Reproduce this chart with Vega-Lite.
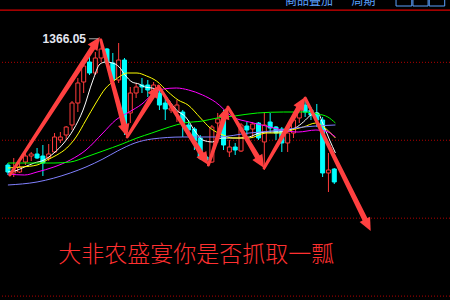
{
  "$schema": "https://vega.github.io/schema/vega-lite/v6.json",
  "width": 450,
  "height": 300,
  "autosize": {"type": "none"},
  "padding": 0,
  "background": "#000000",
  "config": {"view": {"stroke": null}, "axis": {"disable": true}},
  "datasets": {
    "candles": [
      {"i":0,"o":1333.65,"h":1334.16,"l":1331.08,"c":1331.85},
      {"i":1,"o":1331.60,"h":1335.45,"l":1330.57,"c":1332.37},
      {"i":2,"o":1331.85,"h":1334.16,"l":1331.60,"c":1333.14},
      {"i":3,"o":1334.42,"h":1336.73,"l":1333.65,"c":1335.96},
      {"i":4,"o":1335.96,"h":1336.99,"l":1334.68,"c":1336.47},
      {"i":5,"o":1336.47,"h":1338.01,"l":1335.19,"c":1335.45},
      {"i":6,"o":1335.96,"h":1338.78,"l":1330.83,"c":1334.16},
      {"i":7,"o":1335.45,"h":1339.04,"l":1334.68,"c":1336.47},
      {"i":8,"o":1336.99,"h":1341.86,"l":1336.73,"c":1340.84},
      {"i":9,"o":1340.07,"h":1342.12,"l":1339.30,"c":1340.84},
      {"i":10,"o":1341.35,"h":1343.66,"l":1340.07,"c":1343.40},
      {"i":11,"o":1343.92,"h":1350.08,"l":1342.63,"c":1349.56},
      {"i":12,"o":1349.56,"h":1355.98,"l":1347.25,"c":1354.70},
      {"i":13,"o":1354.95,"h":1360.09,"l":1352.13,"c":1359.06},
      {"i":14,"o":1360.09,"h":1361.63,"l":1356.75,"c":1357.26},
      {"i":15,"o":1357.26,"h":1362.65,"l":1356.75,"c":1361.11},
      {"i":16,"o":1361.11,"h":1366.05,"l":1360.09,"c":1363.42},
      {"i":17,"o":1363.42,"h":1363.68,"l":1359.32,"c":1359.83},
      {"i":18,"o":1359.83,"h":1362.40,"l":1354.70,"c":1355.47},
      {"i":19,"o":1355.47,"h":1364.96,"l":1354.70,"c":1360.60},
      {"i":20,"o":1360.60,"h":1361.11,"l":1341.35,"c":1342.63},
      {"i":21,"o":1347.00,"h":1353.67,"l":1344.43,"c":1352.13},
      {"i":22,"o":1352.13,"h":1354.70,"l":1350.85,"c":1353.67},
      {"i":23,"o":1354.18,"h":1355.98,"l":1352.13,"c":1353.67},
      {"i":24,"o":1354.18,"h":1355.47,"l":1351.10,"c":1352.90},
      {"i":25,"o":1351.62,"h":1354.95,"l":1350.85,"c":1354.18},
      {"i":26,"o":1352.13,"h":1353.41,"l":1347.77,"c":1349.05},
      {"i":27,"o":1349.56,"h":1351.10,"l":1345.20,"c":1348.02},
      {"i":28,"o":1347.77,"h":1349.05,"l":1347.00,"c":1348.28},
      {"i":29,"o":1347.25,"h":1350.33,"l":1344.69,"c":1349.05},
      {"i":30,"o":1347.25,"h":1347.77,"l":1340.84,"c":1344.43},
      {"i":31,"o":1343.92,"h":1345.20,"l":1340.84,"c":1342.63},
      {"i":32,"o":1342.89,"h":1343.40,"l":1337.50,"c":1339.81},
      {"i":33,"o":1340.58,"h":1341.35,"l":1334.93,"c":1335.45},
      {"i":34,"o":1335.70,"h":1336.22,"l":1334.16,"c":1334.93},
      {"i":35,"o":1334.42,"h":1343.92,"l":1334.16,"c":1343.40},
      {"i":36,"o":1344.43,"h":1347.00,"l":1339.30,"c":1345.46},
      {"i":37,"o":1346.23,"h":1347.77,"l":1337.50,"c":1338.78},
      {"i":38,"o":1336.99,"h":1340.07,"l":1335.70,"c":1338.27},
      {"i":39,"o":1338.27,"h":1339.30,"l":1336.22,"c":1337.50},
      {"i":40,"o":1337.24,"h":1344.43,"l":1336.99,"c":1343.92},
      {"i":41,"o":1343.66,"h":1344.69,"l":1341.35,"c":1342.63},
      {"i":42,"o":1342.89,"h":1344.69,"l":1340.84,"c":1344.17},
      {"i":43,"o":1344.43,"h":1344.69,"l":1340.07,"c":1340.58},
      {"i":44,"o":1339.56,"h":1347.25,"l":1332.37,"c":1343.92},
      {"i":45,"o":1344.69,"h":1347.00,"l":1341.86,"c":1343.15},
      {"i":46,"o":1343.40,"h":1343.66,"l":1340.07,"c":1341.86},
      {"i":47,"o":1342.89,"h":1343.40,"l":1336.99,"c":1339.30},
      {"i":48,"o":1339.30,"h":1342.63,"l":1336.99,"c":1341.86},
      {"i":49,"o":1341.86,"h":1347.25,"l":1340.58,"c":1345.20},
      {"i":50,"o":1345.71,"h":1349.05,"l":1344.43,"c":1347.77},
      {"i":51,"o":1349.05,"h":1351.10,"l":1345.97,"c":1347.25},
      {"i":52,"o":1347.77,"h":1348.54,"l":1345.20,"c":1346.48},
      {"i":53,"o":1347.00,"h":1349.31,"l":1343.40,"c":1345.20},
      {"i":54,"o":1345.20,"h":1345.97,"l":1330.57,"c":1331.60},
      {"i":55,"o":1331.60,"h":1336.73,"l":1326.72,"c":1332.37},
      {"i":56,"o":1332.62,"h":1332.88,"l":1328.77,"c":1329.29}
    ],
    "ma": [
      {"line":"MA5","i":0,"p":1331.85},{"line":"MA5","i":1.2,"p":1332.11},{"line":"MA5","i":2.85,"p":1333.14},
      {"line":"MA5","i":4.5,"p":1334.16},{"line":"MA5","i":6.2,"p":1334.93},{"line":"MA5","i":7.9,"p":1336.73},
      {"line":"MA5","i":9.6,"p":1339.30},{"line":"MA5","i":11.2,"p":1342.63},{"line":"MA5","i":12.9,"p":1347.77},
      {"line":"MA5","i":14.6,"p":1355.47},{"line":"MA5","i":15.8,"p":1359.57},{"line":"MA5","i":16.8,"p":1360.09},
      {"line":"MA5","i":17.95,"p":1359.83},{"line":"MA5","i":19.1,"p":1358.80},{"line":"MA5","i":20.1,"p":1356.75},
      {"line":"MA5","i":21.3,"p":1354.95},{"line":"MA5","i":22.5,"p":1354.44},{"line":"MA5","i":23.5,"p":1353.67},
      {"line":"MA5","i":24.7,"p":1353.41},{"line":"MA5","i":26.3,"p":1352.64},{"line":"MA5","i":27.2,"p":1351.10},
      {"line":"MA5","i":28.9,"p":1347.77},{"line":"MA5","i":30.5,"p":1345.97},{"line":"MA5","i":32.2,"p":1342.12},
      {"line":"MA5","i":33.4,"p":1340.07},{"line":"MA5","i":35.1,"p":1339.56},{"line":"MA5","i":36.7,"p":1340.58},
      {"line":"MA5","i":38.1,"p":1340.58},{"line":"MA5","i":39.8,"p":1340.58},{"line":"MA5","i":41.4,"p":1340.84},
      {"line":"MA5","i":43.1,"p":1341.86},{"line":"MA5","i":44.8,"p":1342.12},{"line":"MA5","i":46.5,"p":1342.12},
      {"line":"MA5","i":48.15,"p":1342.63},{"line":"MA5","i":49.3,"p":1343.15},{"line":"MA5","i":50.7,"p":1344.69},
      {"line":"MA5","i":52.0,"p":1346.48},{"line":"MA5","i":53.2,"p":1347.00},{"line":"MA5","i":54.0,"p":1344.43},
      {"line":"MA5","i":55.2,"p":1340.07},{"line":"MA5","i":56.2,"p":1336.73},

      {"line":"MA10","i":0,"p":1332.88},{"line":"MA10","i":2.35,"p":1333.14},{"line":"MA10","i":5.0,"p":1333.65},
      {"line":"MA10","i":6.7,"p":1334.93},{"line":"MA10","i":8.4,"p":1336.22},{"line":"MA10","i":10.1,"p":1338.01},
      {"line":"MA10","i":11.7,"p":1340.84},{"line":"MA10","i":13.4,"p":1345.20},{"line":"MA10","i":15.1,"p":1349.56},
      {"line":"MA10","i":16.8,"p":1353.41},{"line":"MA10","i":17.95,"p":1354.95},{"line":"MA10","i":19.3,"p":1356.49},
      {"line":"MA10","i":20.5,"p":1357.26},{"line":"MA10","i":22.15,"p":1357.26},{"line":"MA10","i":23.8,"p":1356.49},
      {"line":"MA10","i":25.5,"p":1355.21},{"line":"MA10","i":27.5,"p":1352.39},{"line":"MA10","i":29.2,"p":1350.33},
      {"line":"MA10","i":30.9,"p":1349.05},{"line":"MA10","i":33.05,"p":1345.71},{"line":"MA10","i":34.7,"p":1343.15},
      {"line":"MA10","i":36.9,"p":1341.35},{"line":"MA10","i":38.6,"p":1340.58},{"line":"MA10","i":41.4,"p":1340.58},
      {"line":"MA10","i":44.3,"p":1341.86},{"line":"MA10","i":47.0,"p":1341.86},{"line":"MA10","i":48.7,"p":1342.63},
      {"line":"MA10","i":50.7,"p":1343.40},{"line":"MA10","i":52.85,"p":1344.43},{"line":"MA10","i":54.0,"p":1343.66},
      {"line":"MA10","i":55.0,"p":1342.38},{"line":"MA10","i":56.2,"p":1340.58},

      {"line":"MA20","i":0,"p":1331.34},{"line":"MA20","i":2.85,"p":1331.08},{"line":"MA20","i":5.0,"p":1331.85},
      {"line":"MA20","i":7.9,"p":1333.14},{"line":"MA20","i":10.7,"p":1334.93},{"line":"MA20","i":13.4,"p":1337.50},
      {"line":"MA20","i":16.3,"p":1341.86},{"line":"MA20","i":18.5,"p":1345.20},{"line":"MA20","i":20.8,"p":1347.25},
      {"line":"MA20","i":23.0,"p":1349.31},{"line":"MA20","i":24.7,"p":1351.62},{"line":"MA20","i":26.7,"p":1353.16},
      {"line":"MA20","i":28.9,"p":1353.41},{"line":"MA20","i":31.0,"p":1352.90},{"line":"MA20","i":33.4,"p":1351.62},
      {"line":"MA20","i":35.6,"p":1349.82},{"line":"MA20","i":38.6,"p":1345.97},{"line":"MA20","i":41.4,"p":1344.69},
      {"line":"MA20","i":44.3,"p":1343.66},{"line":"MA20","i":47.0,"p":1342.63},{"line":"MA20","i":49.8,"p":1342.12},
      {"line":"MA20","i":52.85,"p":1342.63},{"line":"MA20","i":54.5,"p":1342.38},{"line":"MA20","i":56.2,"p":1340.84},

      {"line":"MA40","i":0,"p":1334.16},{"line":"MA40","i":7.9,"p":1334.16},{"line":"MA40","i":10.7,"p":1334.42},
      {"line":"MA40","i":13.4,"p":1335.70},{"line":"MA40","i":16.3,"p":1337.24},{"line":"MA40","i":19.6,"p":1339.04},
      {"line":"MA40","i":22.15,"p":1340.58},{"line":"MA40","i":24.7,"p":1341.86},{"line":"MA40","i":27.7,"p":1343.40},
      {"line":"MA40","i":30.2,"p":1344.43},{"line":"MA40","i":33.4,"p":1344.94},{"line":"MA40","i":35.9,"p":1345.71},
      {"line":"MA40","i":38.9,"p":1346.23},{"line":"MA40","i":42.8,"p":1347.00},{"line":"MA40","i":47.3,"p":1347.25},
      {"line":"MA40","i":50.7,"p":1347.25},{"line":"MA40","i":53.2,"p":1346.74},{"line":"MA40","i":54.9,"p":1345.97},
      {"line":"MA40","i":56.2,"p":1344.43},

      {"line":"MA60","i":0,"p":1328.52},{"line":"MA60","i":5.0,"p":1329.29},{"line":"MA60","i":10.7,"p":1331.60},
      {"line":"MA60","i":13.4,"p":1333.14},{"line":"MA60","i":16.3,"p":1335.19},{"line":"MA60","i":18.8,"p":1337.24},
      {"line":"MA60","i":21.8,"p":1339.30},{"line":"MA60","i":24.7,"p":1340.32},{"line":"MA60","i":30.0,"p":1340.84},
      {"line":"MA60","i":35.9,"p":1340.84},{"line":"MA60","i":41.4,"p":1341.86},{"line":"MA60","i":47.0,"p":1342.63},
      {"line":"MA60","i":50.7,"p":1343.40},{"line":"MA60","i":56.2,"p":1343.92}
    ],
    "arrows": [
      {"arrow":"a1","s":0,"i":0.34,"p":1331.08},{"arrow":"a1","s":1,"i":14.93,"p":1364.58},
      {"arrow":"a2","s":0,"i":15.94,"p":1365.73},{"arrow":"a2","s":1,"i":20.07,"p":1343.07},
      {"arrow":"a3","s":0,"i":20.47,"p":1340.84},{"arrow":"a3","s":1,"i":25.20,"p":1352.23},
      {"arrow":"a4","s":0,"i":25.84,"p":1353.93},{"arrow":"a4","s":1,"i":33.59,"p":1335.60},
      {"arrow":"a5","s":0,"i":34.40,"p":1333.65},{"arrow":"a5","s":1,"i":37.27,"p":1346.61},
      {"arrow":"a6","s":0,"i":37.75,"p":1348.54},{"arrow":"a6","s":1,"i":43.17,"p":1334.86},
      {"arrow":"a7","s":0,"i":43.96,"p":1332.88},{"arrow":"a7","s":1,"i":50.23,"p":1349.13},
      {"arrow":"a8","s":0,"i":51.01,"p":1350.85},{"arrow":"a8","s":1,"i":61.58,"p":1318.76}
    ],
    "heads": [
      {"arrow":"a1","i":15.77,"p":1366.50,"heading":33.9},
      {"arrow":"a2","i":20.47,"p":1340.84,"heading":164.4},
      {"arrow":"a3","i":26.01,"p":1354.18,"heading":32.4},
      {"arrow":"a4","i":34.40,"p":1333.65,"heading":147.5},
      {"arrow":"a5","i":37.75,"p":1348.79,"heading":18.7},
      {"arrow":"a6","i":43.96,"p":1332.88,"heading":148.8},
      {"arrow":"a7","i":51.01,"p":1351.10,"heading":30.6},
      {"arrow":"a8","i":62.25,"p":1316.71,"heading":153.3}
    ]
  },
  "layer": [
    {
      "data": {"values": [{"level":1360},{"level":1340},{"level":1320},{"level":1300}]},
      "mark": {"type": "rule", "color": "#b00000", "strokeDash": [1, 2], "strokeWidth": 1},
      "encoding": {
        "y": {"field": "level", "type": "quantitative", "scale": {"domain": [1299, 1376], "nice": false, "zero": false}}
      }
    },
    {
      "data": {"values": [{"level": 1373.4}]},
      "mark": {"type": "rule", "color": "#d80000", "strokeWidth": 1.2},
      "encoding": {"y": {"field": "level", "type": "quantitative"}}
    },
    {
      "data": {"values": [{"b0": 66.6, "b1": 69.3}, {"b0": 69.5, "b1": 72.1}, {"b0": 72.3, "b1": 74.95}]},
      "mark": {"type": "rect", "fill": null, "stroke": "#5aa0ff", "strokeWidth": 1},
      "encoding": {
        "x": {"field": "b0", "type": "quantitative", "scale": {"domain": [-0.5, 75], "nice": false, "zero": false}},
        "x2": {"field": "b1"},
        "y": {"datum": 1377.5},
        "y2": {"datum": 1374.46}
      }
    },
    {
      "data": {"values": [{"i": 51.68, "p": 1374.59, "t": "商品叠加"}, {"i": 61.0, "p": 1374.59, "t": "周期"}]},
      "mark": {"type": "text", "color": "#5aa0ff", "font": "Noto Sans CJK SC", "fontSize": 12, "baseline": "alphabetic", "align": "center"},
      "encoding": {
        "x": {"field": "i", "type": "quantitative"},
        "y": {"field": "p", "type": "quantitative"},
        "text": {"field": "t"}
      }
    },
    {
      "data": {"name": "candles"},
      "mark": {"type": "rule", "strokeWidth": 1},
      "encoding": {
        "x": {"field": "i", "type": "quantitative"},
        "y": {"field": "l", "type": "quantitative"},
        "y2": {"field": "h"},
        "stroke": {"condition": {"test": "datum.c >= datum.o", "value": "#ff3b3b"}, "value": "#00ffff"}
      }
    },
    {
      "data": {"name": "candles"},
      "mark": {"type": "bar", "width": 4, "strokeWidth": 1},
      "encoding": {
        "x": {"field": "i", "type": "quantitative"},
        "y": {"field": "o", "type": "quantitative"},
        "y2": {"field": "c"},
        "fill": {"condition": {"test": "datum.c >= datum.o", "value": "#000000"}, "value": "#00ffff"},
        "stroke": {"condition": {"test": "datum.c >= datum.o", "value": "#ff3b3b"}, "value": "#00ffff"}
      }
    },
    {
      "data": {"name": "ma"},
      "mark": {"type": "line", "strokeWidth": 1, "interpolate": "monotone"},
      "encoding": {
        "x": {"field": "i", "type": "quantitative"},
        "y": {"field": "p", "type": "quantitative"},
        "color": {
          "field": "line", "type": "nominal", "legend": null,
          "scale": {"domain": ["MA5", "MA10", "MA20", "MA40", "MA60"], "range": ["#ffffff", "#ffff00", "#ff00ff", "#00ff00", "#8080ff"]}
        },
        "order": {"field": "i", "type": "quantitative"}
      }
    },
    {
      "data": {"name": "arrows"},
      "mark": {"type": "trail", "color": "#ff4040"},
      "encoding": {
        "x": {"field": "i", "type": "quantitative"},
        "y": {"field": "p", "type": "quantitative"},
        "detail": {"field": "arrow"},
        "order": {"field": "s", "type": "quantitative"},
        "size": {"field": "s", "type": "quantitative", "legend": null, "scale": {"domain": [0, 1], "range": [3, 5.5]}}
      }
    },
    {
      "data": {"name": "heads"},
      "mark": {"type": "point", "filled": true, "opacity": 1, "color": "#ff4040", "shape": "M0,0L-0.45,1L0.45,1Z", "size": 676, "strokeWidth": 0},
      "encoding": {
        "x": {"field": "i", "type": "quantitative"},
        "y": {"field": "p", "type": "quantitative"},
        "angle": {"field": "heading", "type": "quantitative", "scale": null}
      }
    },
    {
      "data": {"values": [{"a": 13.9, "b": 15.5, "p": 1366.05}]},
      "mark": {"type": "rule", "color": "#a8a8a8", "strokeWidth": 1},
      "encoding": {
        "x": {"field": "a", "type": "quantitative"},
        "x2": {"field": "b"},
        "y": {"field": "p", "type": "quantitative"}
      }
    },
    {
      "data": {"values": [{"i": 13.4, "p": 1366.05, "t": "1366.05"}]},
      "mark": {"type": "text", "color": "#e4e6f0", "font": "Liberation Sans", "fontWeight": "bold", "fontSize": 12, "align": "right", "baseline": "middle"},
      "encoding": {
        "x": {"field": "i", "type": "quantitative"},
        "y": {"field": "p", "type": "quantitative"},
        "text": {"field": "t"}
      }
    },
    {
      "data": {"values": [{"i": 32.3, "p": 1310.55, "t": "大非农盛宴你是否抓取一瓢"}]},
      "mark": {"type": "text", "color": "#ff3030", "font": "Noto Sans CJK SC", "fontWeight": 300, "fontSize": 23, "align": "center", "baseline": "middle"},
      "encoding": {
        "x": {"field": "i", "type": "quantitative"},
        "y": {"field": "p", "type": "quantitative"},
        "text": {"field": "t"}
      }
    }
  ]
}
